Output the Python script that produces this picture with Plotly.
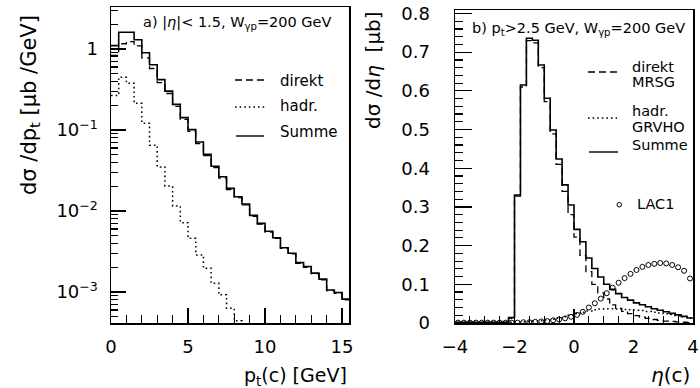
import plotly.graph_objects as go

# ---------------- data: panel a (pt) ----------------
PT_EDGES = [0.0, 0.5, 1.0, 1.5, 2.0, 2.5, 3.0, 3.5, 4.0, 4.5, 5.0, 5.5, 6.0, 6.5, 7.0, 7.5,
            8.0, 8.5, 9.0, 9.5, 10.0, 10.5, 11.0, 11.5, 12.0, 12.5, 13.0, 13.5, 14.0, 14.5,
            15.0, 15.5]
SUMME_PT = [1.10, 1.61, 1.61, 1.30, 0.898, 0.639, 0.418, 0.302, 0.207, 0.142, 0.101, 0.0711,
            0.0502, 0.0357, 0.0264, 0.0190, 0.0150, 0.0122, 0.00883, 0.00703, 0.00561,
            0.00468, 0.00352, 0.00301, 0.00230, 0.00206, 0.00171, 0.00144, 0.00106,
            0.000984, 0.000815]
DIREKT_PT = [0.83, 1.16, 1.23, 1.09, 0.775, 0.574, 0.383, 0.282, 0.195, 0.135, 0.0962, 0.0680,
             0.0482, 0.0344, 0.0255, 0.0184, 0.0146, 0.0119, 0.0086, 0.0069, 0.0055, 0.0046,
             0.00345, 0.00295, 0.00226, 0.00202, 0.00168, 0.00141, 0.00104, 0.000965, 0.0008]
HADR_PT = [0.267, 0.446, 0.376, 0.213, 0.121, 0.0648, 0.0350, 0.0203, 0.0115, 0.00716,
           0.00460, 0.00287, 0.00196, 0.00128, 0.000921, 0.000631, 0.000441, 0.0002]

# ---------------- data: panel b (eta) ----------------
ETA_EDGES = [-4.0, -3.8, -3.6, -3.4, -3.2, -3.0, -2.8, -2.6, -2.4, -2.2, -2.0, -1.8, -1.6,
             -1.4, -1.2, -1.0, -0.8, -0.6, -0.4, -0.2, 0.0, 0.2, 0.4, 0.6, 0.8, 1.0, 1.2,
             1.4, 1.6, 1.8, 2.0, 2.2, 2.4, 2.6, 2.8, 3.0, 3.2, 3.4, 3.6, 3.8, 4.0]
ETA_CENTERS = [-3.9, -3.7, -3.5, -3.3, -3.1, -2.9, -2.7, -2.5, -2.3, -2.1, -1.9, -1.7, -1.5,
               -1.3, -1.1, -0.9, -0.7, -0.5, -0.3, -0.1, 0.1, 0.3, 0.5, 0.7, 0.9, 1.1, 1.3,
               1.5, 1.7, 1.9, 2.1, 2.3, 2.5, 2.7, 2.9, 3.1, 3.3, 3.5, 3.7, 3.9]
SUMME_ETA = [0.002, 0.002, 0.002, 0.002, 0.002, 0.002, 0.002, 0.002, 0.002, 0.014, 0.331,
             0.615, 0.736, 0.731, 0.667, 0.581, 0.499, 0.424, 0.357, 0.305, 0.242, 0.210,
             0.168, 0.141, 0.119, 0.100, 0.087, 0.076, 0.066, 0.059, 0.052, 0.047, 0.042,
             0.037, 0.033, 0.029, 0.025, 0.021, 0.017, 0.013]
DIREKT_ETA = [0.0, 0.0, 0.0, 0.0, 0.0, 0.0, 0.0, 0.0, 0.0, 0.012, 0.328, 0.610, 0.730, 0.724,
              0.660, 0.572, 0.489, 0.410, 0.340, 0.280, 0.222, 0.175, 0.133, 0.100, 0.078,
              0.062, 0.047, 0.038, 0.030, 0.024, 0.019, 0.015, 0.012, 0.009, 0.007, 0.005,
              0.004, 0.003, 0.002, 0.001]
HADR_ETA = [0.002, 0.002, 0.002, 0.002, 0.002, 0.002, 0.002, 0.002, 0.002, 0.002, 0.003,
            0.003, 0.004, 0.005, 0.006, 0.008, 0.010, 0.013, 0.016, 0.020, 0.024, 0.028,
            0.031, 0.034, 0.036, 0.037, 0.037, 0.036, 0.035, 0.034, 0.033, 0.032, 0.030,
            0.028, 0.026, 0.024, 0.022, 0.019, 0.016, 0.013]
LAC1_ETA = [0.001, 0.001, 0.001, 0.001, 0.001, 0.001, 0.001, 0.001, 0.001, 0.001, 0.001,
            0.002, 0.002, 0.003, 0.004, 0.005, 0.007, 0.009, 0.012, 0.016, 0.021, 0.029,
            0.040, 0.051, 0.063, 0.077, 0.091, 0.104, 0.116, 0.127, 0.137, 0.145, 0.150,
            0.153, 0.155, 0.154, 0.150, 0.144, 0.135, 0.115]

W, H = 700, 388
FONT = "DejaVu Sans"


def step(edges, vals):
    xs = list(edges[:len(vals) + 1])
    ys = list(vals) + [vals[-1]]
    return xs, ys


def px(x):
    return x / W


def py(y):
    return 1 - y / H


DASH = "7px,4px"
DOT = "1.6px,3px"

fig = go.Figure()

for vals, dash, wd in [(HADR_PT, DOT, 1.5), (DIREKT_PT, DASH, 1.3), (SUMME_PT, "solid", 1.6)]:
    xs, ys = step(PT_EDGES, vals)
    fig.add_trace(go.Scatter(x=xs, y=ys, mode="lines", line=dict(shape="hv", color="black", width=wd, dash=dash),
                             xaxis="x", yaxis="y", hoverinfo="skip"))

for vals, dash, wd in [(HADR_ETA, DOT, 1.5), (DIREKT_ETA, DASH, 1.3), (SUMME_ETA, "solid", 1.6)]:
    xs, ys = step(ETA_EDGES, vals)
    fig.add_trace(go.Scatter(x=xs, y=ys, mode="lines", line=dict(shape="hv", color="black", width=wd, dash=dash),
                             xaxis="x2", yaxis="y2", hoverinfo="skip"))

fig.add_trace(go.Scatter(x=ETA_CENTERS, y=LAC1_ETA, mode="markers",
                         marker=dict(symbol="circle-open", size=5, color="black", line=dict(width=1, color="black")),
                         xaxis="x2", yaxis="y2", hoverinfo="skip"))

axis_common = dict(showline=True, mirror=True, linecolor="black", linewidth=1.5, ticks="inside",
                   tickcolor="black", tickwidth=1.2, showgrid=False, zeroline=False, automargin=False,
                   tickfont=dict(family=FONT, size=18, color="black"))

log_minor = [m * 10.0 ** e for e in range(-4, 1) for m in range(2, 10)]

fig.update_layout(
    width=W, height=H, margin=dict(l=0, r=0, t=0, b=0, autoexpand=False),
    paper_bgcolor="white", plot_bgcolor="white", showlegend=False,
    font=dict(family=FONT, size=17, color="black"),
    xaxis=dict(domain=[px(111), px(349)], range=[0, 15.45], anchor="y", tickmode="array",
               tickvals=[0, 5, 10, 15], ticktext=["0", "5", "10", "15"], ticklen=15,
               minor=dict(ticks="inside", ticklen=8, tickmode="array", tickvals=list(range(1, 16)),
                          tickcolor="black", tickwidth=1.2, showgrid=False),
               ticklabelstandoff=7, **axis_common),
    yaxis=dict(domain=[py(323), py(7)], type="log", range=[-3.383, 0.518], anchor="x",
               tickmode="array", tickvals=[0.001, 0.01, 0.1, 1],
               ticktext=["10<sup>−3</sup>", "10<sup>−2</sup>", "10<sup>−1</sup>", "1"], ticklen=15,
               minor=dict(ticks="inside", ticklen=7, tickmode="array", tickvals=log_minor,
                          tickcolor="black", tickwidth=1.2, showgrid=False),
               ticklabelstandoff=8, **axis_common),
    xaxis2=dict(domain=[px(455), px(693)], range=[-4, 4], anchor="y2", tickmode="array",
                tickvals=[-4, -2, 0, 2, 4], ticktext=["−4", "−2", "0", "2", "4"], ticklen=14,
                minor=dict(ticks="inside", ticklen=7, tickmode="array",
                           tickvals=[-3.5, -3, -2.5, -1.5, -1, -0.5, 0.5, 1, 1.5, 2.5, 3, 3.5],
                           tickcolor="black", tickwidth=1.2, showgrid=False),
                ticklabelstandoff=7, **axis_common),
    yaxis2=dict(domain=[py(323), py(10)], range=[0, 0.809], anchor="x2", tickmode="array",
                tickvals=[0, 0.1, 0.2, 0.3, 0.4, 0.5, 0.6, 0.7, 0.8],
                ticktext=["0", "0.1", "0.2", "0.3", "0.4", "0.5", "0.6", "0.7", "0.8"], ticklen=17,
                minor=dict(ticks="inside", ticklen=8, tickmode="array",
                           tickvals=[0.02, 0.04, 0.06, 0.08, 0.12, 0.14, 0.16, 0.18, 0.22, 0.24, 0.26,
                                     0.28, 0.32, 0.34, 0.36, 0.38, 0.42, 0.44, 0.46, 0.48, 0.52,
                                     0.54, 0.56, 0.58, 0.62, 0.64, 0.66, 0.68, 0.72, 0.74, 0.76, 0.78],
                           tickcolor="black", tickwidth=1.2, showgrid=False),
                ticklabelstandoff=20, **axis_common),
)

ann = []


def text(x, y, s, size=16, xanchor="left", yanchor="middle", angle=0):
    ann.append(dict(x=px(x), y=py(y), xref="paper", yref="paper", text=s, showarrow=False,
                    xanchor=xanchor, yanchor=yanchor, textangle=angle,
                    font=dict(family=FONT, size=size, color="black")))


# axis titles
text(30, 105, "dσ /dp<sub>t</sub> [μb /GeV]", size=21, xanchor="center", yanchor="middle", angle=-90)
text(349, 376, "p<sub>t</sub>(c) [GeV]", size=19, xanchor="right")
text(373, 70, "dσ /d<i>η</i>  [μb]", size=20, xanchor="center", yanchor="middle", angle=-90)
text(692, 375, "<i>η</i>(c)", size=20, xanchor="right")

# panel labels
text(141, 23, "a) |<i>η</i>|&lt; 1.5, W<sub>γp</sub>=200 GeV", size=14.5)
text(470, 29, "b) p<sub>t</sub>&gt;2.5 GeV, W<sub>γp</sub>=200 GeV", size=14.5)

# legend a
text(278, 81, "direkt", size=15)
text(278, 106, "hadr.", size=15)
text(278, 132, "Summe", size=15)
# legend b
text(630, 67, "direkt", size=14.5)
text(630, 82, "MRSG", size=14.5)
text(630, 111, "hadr.", size=14.5)
text(630, 127, "GRVHO", size=14.5)
text(630, 145, "Summe", size=14.5)
text(635, 204, "LAC1", size=14.5)

shapes = []


def seg(x0, x1, y, dash):
    shapes.append(dict(type="line", xref="paper", yref="paper", x0=px(x0), x1=px(x1), y0=py(y), y1=py(y),
                       line=dict(color="black", width=1.4, dash=dash)))


seg(235, 265, 80, DASH)
seg(235, 265, 107, DOT)
seg(236, 264, 136, "solid")
seg(588, 617, 72, DASH)
seg(588, 617, 118, DOT)
seg(589, 618, 152, "solid")
shapes.append(dict(type="circle", xref="paper", yref="paper", x0=px(617), x1=px(621.5), y0=py(202.5),
                   y1=py(207), line=dict(color="black", width=1)))

fig.update_layout(annotations=ann, shapes=shapes)
fig.write_html("out.html", config={"displayModeBar": False, "staticPlot": True},
               post_script="document.body.style.margin='0';document.body.style.padding='0';")
